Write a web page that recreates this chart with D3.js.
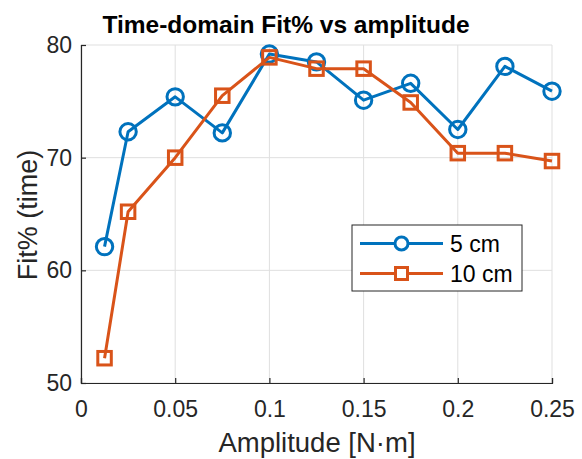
<!DOCTYPE html>
<html>
<head>
<meta charset="utf-8">
<script src="https://cdn.jsdelivr.net/npm/d3@7"></script>
<style>
  html, body { margin: 0; padding: 0; background: #ffffff; }
  svg { display: block; font-family: "Liberation Sans", Arial, Helvetica, sans-serif; }
</style>
</head>
<body>
<svg id="chart" width="582" height="459"></svg>
<script>
// Torque amplitude [N·m]
const amplitudes = [0.0125, 0.025, 0.05, 0.075, 0.1, 0.125, 0.15, 0.175, 0.2, 0.225, 0.25];
// Time-domain fit percentage for each offset
const fit5cm  = [62.1, 72.3, 75.4, 72.2, 79.2, 78.5, 75.1, 76.6, 72.5, 78.1, 75.9];
const fit10cm = [52.2, 65.2, 70.0, 75.5, 78.9, 77.9, 77.9, 74.9, 70.4, 70.4, 69.7];
const seriesNames = ["5 cm", "10 cm"];
const xTicks = [0, 0.05, 0.1, 0.15, 0.2, 0.25];
const yTicks = [50, 60, 70, 80];

const colors = ["#0072BD", "#D95319"];
const axisColor = "#262626";
const gridColor = "#dfdfdf";

const svg = d3.select("#chart");
const plotLeft = 81, plotRight = 552, plotTop = 45, plotBottom = 383;

const x = d3.scaleLinear().domain([0, 0.25]).range([plotLeft, plotRight]);
const y = d3.scaleLinear().domain([50, 80]).range([plotBottom, plotTop]);

// grid
const grid = svg.append("g");
grid.selectAll("line.gx").data(xTicks).join("line")
  .attr("x1", d => x(d)).attr("x2", d => x(d))
  .attr("y1", plotTop).attr("y2", plotBottom)
  .attr("stroke", gridColor).attr("stroke-width", 1);
grid.selectAll("line.gy").data(yTicks).join("line")
  .attr("x1", plotLeft).attr("x2", plotRight)
  .attr("y1", d => y(d)).attr("y2", d => y(d))
  .attr("stroke", gridColor).attr("stroke-width", 1);

// axes with inward ticks
const xAxis = d3.axisBottom(x).tickValues(xTicks).tickSize(-5).tickPadding(18)
  .tickFormat(d => d3.format("~g")(d));
const yAxis = d3.axisLeft(y).tickValues(yTicks).tickSize(-5).tickPadding(9);

const gx = svg.append("g").attr("transform", `translate(0,${plotBottom})`).call(xAxis);
const gy = svg.append("g").attr("transform", `translate(${plotLeft},0)`).call(yAxis);
[gx, gy].forEach(g => {
  g.select(".domain").attr("stroke", axisColor).attr("stroke-width", 1.2);
  g.selectAll(".tick line").attr("stroke", axisColor).attr("stroke-width", 1.2);
  g.selectAll(".tick text").attr("fill", axisColor)
    .attr("font-size", 23).attr("font-family", "Liberation Sans, Arial, sans-serif");
});

// series
const data = [fit5cm, fit10cm];
const line = d3.line().x((d, i) => x(amplitudes[i])).y(d => y(d));

data.forEach((vals, s) => {
  svg.append("path").datum(vals)
    .attr("d", line).attr("fill", "none")
    .attr("stroke", colors[s]).attr("stroke-width", 3)
    .attr("stroke-linejoin", "round");
  const g = svg.append("g");
  if (s === 0) {
    g.selectAll("circle").data(vals).join("circle")
      .attr("cx", (d, i) => x(amplitudes[i])).attr("cy", d => y(d))
      .attr("r", 8.2).attr("fill", "none")
      .attr("stroke", colors[s]).attr("stroke-width", 3);
  } else {
    const side = 13.5;
    g.selectAll("rect").data(vals).join("rect")
      .attr("x", (d, i) => x(amplitudes[i]) - side / 2).attr("y", d => y(d) - side / 2)
      .attr("width", side).attr("height", side).attr("fill", "none")
      .attr("stroke", colors[s]).attr("stroke-width", 3);
  }
});

// title and axis labels
svg.append("text").attr("x", 286).attr("y", 33).attr("text-anchor", "middle")
  .attr("font-size", 24.5).attr("font-weight", "bold").attr("fill", "#000")
  .text("Time-domain Fit% vs amplitude");
svg.append("text").attr("x", 317).attr("y", 452).attr("text-anchor", "middle")
  .attr("font-size", 27.5).attr("fill", axisColor)
  .text("Amplitude [N·m]");
svg.append("text").attr("transform", "translate(37,215) rotate(-90)")
  .attr("text-anchor", "middle")
  .attr("font-size", 27).attr("fill", axisColor)
  .text("Fit% (time)");

// legend
const lg = svg.append("g");
lg.append("rect").attr("x", 352).attr("y", 225).attr("width", 170).attr("height", 66)
  .attr("fill", "#fff").attr("stroke", axisColor).attr("stroke-width", 1);
seriesNames.forEach((name, s) => {
  const cy = 243.5 + s * 30;
  lg.append("line").attr("x1", 360).attr("x2", 443).attr("y1", cy).attr("y2", cy)
    .attr("stroke", colors[s]).attr("stroke-width", 3);
  if (s === 0) {
    lg.append("circle").attr("cx", 401.5).attr("cy", cy).attr("r", 6.5)
      .attr("fill", "#fff").attr("stroke", colors[s]).attr("stroke-width", 3);
  } else {
    lg.append("rect").attr("x", 401.5 - 6).attr("y", cy - 6).attr("width", 12).attr("height", 12)
      .attr("fill", "#fff").attr("stroke", colors[s]).attr("stroke-width", 3);
  }
  lg.append("text").attr("x", 450).attr("y", cy + 8).attr("font-size", 23)
    .attr("fill", "#000").text(name);
});
</script>
</body>
</html>
